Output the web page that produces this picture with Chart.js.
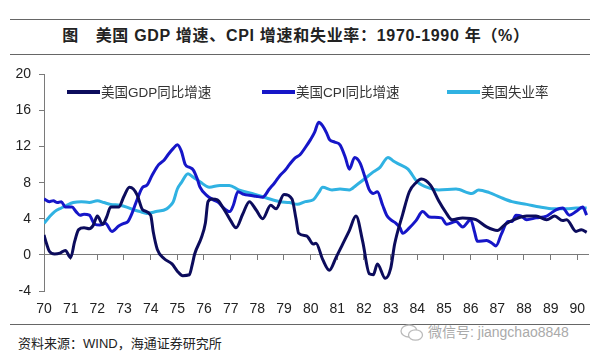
<!DOCTYPE html>
<html>
<head>
<meta charset="utf-8">
<script src="https://cdn.jsdelivr.net/npm/chart.js@4"></script>
<style>
  body { margin: 0; background: #fff; width: 600px; height: 358px; overflow: hidden; position: relative;
         font-family: "Liberation Sans", "Noto Sans CJK SC", sans-serif; color: #222; }
  .rule { position: absolute; left: 10px; width: 580px; height: 1px; background: #666; }
  #title { position: absolute; left: 0; width: 592px; top: 26px; text-align: center; font-size: 16px; font-weight: bold;
           line-height: 20px; letter-spacing: 0.7px; }
  #chartBox { position: absolute; left: 0; top: 58px; width: 600px; height: 262px; }
  .lg { position: absolute; top: 84px; font-size: 13.5px; line-height: 18px; color: #333; white-space: nowrap; }
  .lg i { display: inline-block; width: 33px; height: 4px; vertical-align: middle; margin-right: 1px; position: relative; top: -1px; }
  #source { position: absolute; left: 18px; top: 333px; font-size: 13px; color: #222; }
  #wm { position: absolute; left: 400px; top: 321px; font-size: 14px; color: #aaa; white-space: nowrap; }
  #wm svg { vertical-align: middle; margin-right: 4px; }
</style>
</head>
<body>
<div class="rule" style="top:19px"></div>
<div id="title">图&emsp;美国 GDP 增速、CPI 增速和失业率：1970-1990 年（%）</div>
<div class="rule" style="top:54px"></div>

<div id="chartBox"><canvas id="myChart" width="600" height="262"></canvas></div>

<div class="lg" style="left:67px"><i style="background:#0c0c5c"></i>美国GDP同比增速</div>
<div class="lg" style="left:262px"><i style="background:#1616c8"></i>美国CPI同比增速</div>
<div class="lg" style="left:447px"><i style="background:#30b2e2"></i>美国失业率</div>

<div class="rule" style="top:324px"></div>
<div id="source">资料来源：WIND，海通证券研究所</div>
<div id="wm"><svg width="24" height="18" viewBox="0 0 24 18"><ellipse cx="9" cy="7" rx="8" ry="6" fill="none" stroke="#bbb" stroke-width="1.3"/><ellipse cx="15.5" cy="11" rx="7" ry="5.2" fill="#fff" stroke="#bbb" stroke-width="1.3"/></svg>微信号: jiangchao8848</div>

<script>
// series values (x = year, fractional)
let gdpYears = [1970.0, 1970.1, 1970.2, 1970.4, 1970.6, 1970.8, 1971.0, 1971.15, 1971.3, 1971.5, 1971.7, 1971.85,
  1972.0, 1972.2, 1972.35, 1972.5, 1972.8, 1973.0, 1973.2, 1973.35, 1973.5, 1973.7, 1974.0, 1974.1, 1974.25,
  1974.5, 1974.8, 1975.0, 1975.2, 1975.45, 1975.55, 1975.65, 1975.9, 1976.05, 1976.15, 1976.3, 1976.5, 1976.7,
  1977.0, 1977.2, 1977.45, 1977.7, 1977.95, 1978.2, 1978.5, 1978.7, 1979.0, 1979.3, 1979.45, 1979.55, 1979.85,
  1980.1, 1980.2, 1980.45, 1980.7, 1980.95, 1981.2, 1981.45, 1981.7, 1981.95, 1982.2, 1982.35, 1982.5, 1982.8,
  1983.0, 1983.15, 1983.45, 1983.7, 1983.95, 1984.15, 1984.5, 1984.8, 1985.05, 1985.3, 1985.7, 1986.2, 1986.6,
  1987.0, 1987.3, 1987.7, 1988.1, 1988.45, 1988.85, 1989.15, 1989.45, 1989.6, 1989.95, 1990.15, 1990.35];
let gdpValues = [2.2, 1.2, 0.4, 0.1, 0.2, 0.5, -0.3, 1.5, 2.8, 3.0, 2.9, 3.3,
  4.3, 3.4, 4.2, 5.3, 5.3, 6.5, 7.5, 7.3, 6.6, 5.0, 4.4, 2.5, 0.6,
  -0.4, -1.0, -1.8, -2.3, -2.2, -1.2, 0.1, 1.9, 3.5, 5.9, 6.2, 6.1, 5.3,
  3.8, 3.0, 4.5, 5.9, 5.0, 4.0, 5.5, 5.1, 6.7, 6.2, 4.0, 2.4, 2.1,
  1.2, 1.3, -0.5, -1.7, -0.3, 1.2, 2.7, 4.3, 1.5, -2.1, -2.2, -1.0, -2.6,
  -1.5, 1.2, 4.5, 7.0, 8.0, 8.4, 7.7, 6.0, 4.8, 3.9, 4.1, 3.9, 3.1,
  2.7, 3.4, 4.0, 4.3, 4.3, 3.9, 4.3, 3.8, 3.9, 2.6, 2.8, 2.5];

let cpiYears = [1970.0, 1970.2, 1970.35, 1970.5, 1970.65, 1970.8, 1971.05, 1971.2, 1971.35, 1971.5, 1971.7, 1971.9,
  1972.1, 1972.3, 1972.55, 1972.8, 1973.0, 1973.15, 1973.3, 1973.5, 1973.7, 1973.85, 1974.05, 1974.3, 1974.5,
  1974.65, 1974.85, 1975.0, 1975.15, 1975.3, 1975.45, 1975.6, 1975.75, 1975.85, 1976.1, 1976.35, 1976.55, 1976.7,
  1976.97, 1977.1, 1977.27, 1977.5, 1977.7, 1977.95, 1978.2, 1978.45, 1978.65, 1978.85, 1979.05, 1979.2, 1979.4,
  1979.6, 1979.8, 1980.0, 1980.15, 1980.3, 1980.45, 1980.6, 1980.7, 1980.9, 1981.1, 1981.3, 1981.45, 1981.65,
  1981.85, 1982.05, 1982.2, 1982.35, 1982.5, 1982.7, 1982.85, 1983.0, 1983.2, 1983.35, 1983.45, 1983.7, 1983.95,
  1984.2, 1984.45, 1984.9, 1985.1, 1985.45, 1985.7, 1986.0, 1986.15, 1986.25, 1986.6, 1986.8, 1986.95, 1987.15,
  1987.4, 1987.55, 1987.7, 1987.9, 1988.1, 1988.45, 1988.85, 1989.0, 1989.2, 1989.45, 1989.7, 1989.95, 1990.2, 1990.35];
let cpiValues = [6.2, 5.9, 6.0, 5.8, 5.9, 5.3, 5.3, 4.8, 4.4, 4.5, 4.4, 3.4,
  3.3, 3.5, 2.6, 3.2, 3.5, 3.7, 4.6, 6.2, 7.5, 7.7, 8.8, 10.0, 10.5,
  11.1, 11.8, 12.2, 11.5, 10.0, 9.7, 9.4, 8.4, 7.5, 6.6, 6.1, 5.8, 5.3,
  4.8, 5.5, 7.0, 6.7, 6.6, 6.5, 6.4, 7.3, 8.0, 8.8, 9.4, 10.0, 10.7,
  11.1, 11.9, 12.8, 13.6, 14.7, 14.3, 13.5, 12.8, 12.5, 12.2, 10.8, 9.5, 10.8,
  10.2, 8.5, 7.2, 6.8, 7.0, 5.5, 4.4, 3.9, 3.5, 3.0, 2.4, 3.0, 3.8,
  4.8, 4.2, 4.1, 3.4, 3.7, 3.1, 3.9, 2.5, 1.5, 1.6, 1.3, 1.0, 2.3,
  3.7, 3.7, 4.4, 4.3, 3.9, 4.1, 4.3, 4.6, 5.0, 5.2, 4.4, 4.8, 5.3, 4.4];

let unempYears = [1970.0, 1970.2, 1970.4, 1970.65, 1970.85, 1971.1, 1971.4, 1971.7, 1972.0, 1972.25, 1972.5, 1972.85,
  1973.1, 1973.35, 1973.6, 1973.85, 1974.2, 1974.6, 1974.75, 1974.85, 1975.0, 1975.15, 1975.4, 1975.6, 1975.85,
  1976.2, 1976.6, 1976.95, 1977.3, 1977.8, 1978.35, 1978.85, 1979.2, 1979.5, 1979.8, 1980.1, 1980.3, 1980.45,
  1980.8, 1981.1, 1981.45, 1981.7, 1982.1, 1982.35, 1982.6, 1982.9, 1983.1, 1983.35, 1983.65, 1984.0, 1984.45,
  1984.8, 1985.45, 1986.05, 1986.3, 1986.7, 1987.1, 1987.55, 1988.1, 1988.6, 1989.1, 1989.6, 1989.95, 1990.35];
let unempValues = [3.5, 4.2, 4.8, 5.2, 5.5, 5.8, 5.9, 5.8, 6.0, 5.8, 5.6, 5.5,
  5.3, 5.0, 4.8, 4.6, 4.8, 5.1, 5.5, 5.9, 7.3, 8.0, 9.0, 8.6, 8.1,
  7.5, 7.7, 7.7, 7.2, 6.8, 6.3, 5.9, 5.8, 5.6, 5.9, 6.1, 6.9, 7.5,
  7.2, 7.3, 7.2, 7.7, 8.6, 9.2, 9.7, 10.8, 10.4, 10.0, 9.5, 8.1, 7.4,
  7.2, 7.3, 6.8, 7.2, 6.9, 6.4, 5.9, 5.6, 5.3, 5.1, 5.1, 5.2, 5.2];

let xMin = 1970, xMax = 1990.4;
let yMin = -4, yMax = 20, yStep = 4;

function pts(xs, ys) {
  return xs.map((x, i) => ({ x: x, y: ys[i] }));
}

function line(label, xs, ys, color) {
  return {
    label: label,
    data: pts(xs, ys),
    borderColor: color,
    backgroundColor: color,
    borderWidth: 3,
    pointRadius: 0,
    showLine: true,
    cubicInterpolationMode: 'monotone'
  };
}

let ctx = document.getElementById('myChart').getContext('2d');
let tickFont = { family: '"Liberation Sans", Arial, sans-serif', size: 14 };

new Chart(ctx, {
  type: 'scatter',
  data: {
    datasets: [
      line('美国GDP同比增速', gdpYears, gdpValues, '#0c0c5c'),
      line('美国CPI同比增速', cpiYears, cpiValues, '#1616c8'),
      line('美国失业率', unempYears, unempValues, '#30b2e2')
    ]
  },
  options: {
    responsive: false,
    animation: false,
    layout: { padding: { top: 13, right: 12 } },
    plugins: { legend: { display: false }, tooltip: { enabled: false } },
    scales: {
      x: {
        type: 'linear', position: 'bottom', min: xMin, max: xMax,
        border: { display: false },
        grid: { display: false, drawTicks: false },
        ticks: { stepSize: 1, includeBounds: false, padding: 10, color: '#222', font: tickFont,
                 maxRotation: 0, autoSkip: false,
                 callback: v => String(v % 100).padStart(2, '0') },
        afterFit: s => { s.height = 29; }
      },
      x0: {
        type: 'linear', position: { y: 0 }, min: xMin, max: xMax,
        border: { display: true, color: '#7a7a7a', width: 1 },
        grid: { drawOnChartArea: false, drawTicks: true, tickLength: 5, color: '#7a7a7a' },
        ticks: { display: false, stepSize: 1, includeBounds: false }
      },
      y: {
        min: yMin, max: yMax,
        border: { display: true, color: '#7a7a7a', width: 1 },
        grid: { drawOnChartArea: false, drawTicks: true, tickLength: 5, color: '#7a7a7a' },
        ticks: { stepSize: yStep, padding: 8, color: '#222', font: tickFont },
        afterFit: s => { s.width = 44; }
      }
    }
  }
});
</script>
</body>
</html>
